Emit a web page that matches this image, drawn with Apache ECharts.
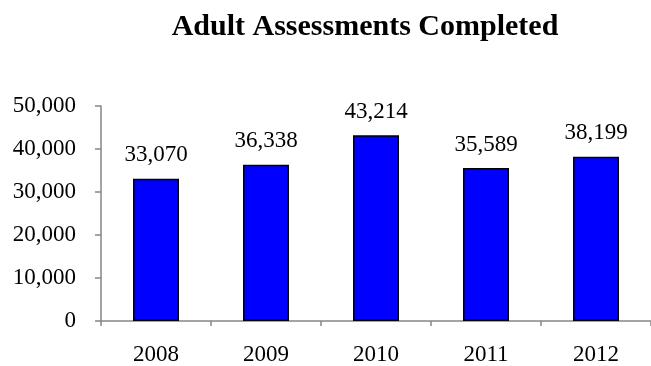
<!DOCTYPE html>
<html>
<head>
<meta charset="utf-8">
<script src="https://cdn.jsdelivr.net/npm/echarts@6/dist/echarts.min.js"></script>
<style>
  html, body { margin: 0; padding: 0; background: #fff; }
  #chart { width: 651px; height: 366px; }
</style>
</head>
<body>
<div id="chart"></div>
<script>
// Yearly totals of completed adult assessments
const years = ['2008', '2009', '2010', '2011', '2012'];
const assessments = [33070, 36338, 43214, 35589, 38199];
const yTicks = [0, 10000, 20000, 30000, 40000, 50000];

const fmt = v => v.toLocaleString('en-US');
const serif = '"Liberation Serif", "DejaVu Serif", serif';

const chart = echarts.init(document.getElementById('chart'), null, { renderer: 'canvas' });
chart.setOption({
  animation: false,
  backgroundColor: '#ffffff',
  title: {
    text: 'Adult Assessments Completed',
    left: 360,
    textAlign: 'center',
    top: 7,
    textStyle: { fontFamily: serif, fontWeight: 'bold', fontSize: 30, color: '#000' }
  },
  grid: { left: 101, right: -5, top: 106, bottom: 43, containLabel: false },
  xAxis: {
    type: 'category',
    data: years,
    axisLine: { lineStyle: { color: '#868686', width: 1.5 } },
    axisTick: { show: true, length: 5, alignWithLabel: false, lineStyle: { color: '#868686', width: 1.5 } },
    axisLabel: { fontFamily: serif, fontSize: 23, color: '#000', margin: 22 }
  },
  yAxis: {
    type: 'value',
    min: yTicks[0],
    max: yTicks[yTicks.length - 1],
    interval: yTicks[1] - yTicks[0],
    splitLine: { show: false },
    axisLine: { show: true, lineStyle: { color: '#868686', width: 1.5 } },
    axisTick: { show: true, length: 6, lineStyle: { color: '#868686', width: 1.5 } },
    axisLabel: { fontFamily: serif, fontSize: 23, color: '#000', margin: 25, formatter: fmt }
  },
  series: [{
    type: 'bar',
    data: assessments,
    barWidth: 46,
    itemStyle: { color: '#0000ff', borderColor: '#000', borderWidth: 1.5 },
    label: {
      show: true,
      position: 'top',
      distance: 12,
      fontFamily: serif,
      fontSize: 23,
      color: '#000',
      formatter: p => fmt(p.value)
    }
  }]
});
</script>
</body>
</html>
